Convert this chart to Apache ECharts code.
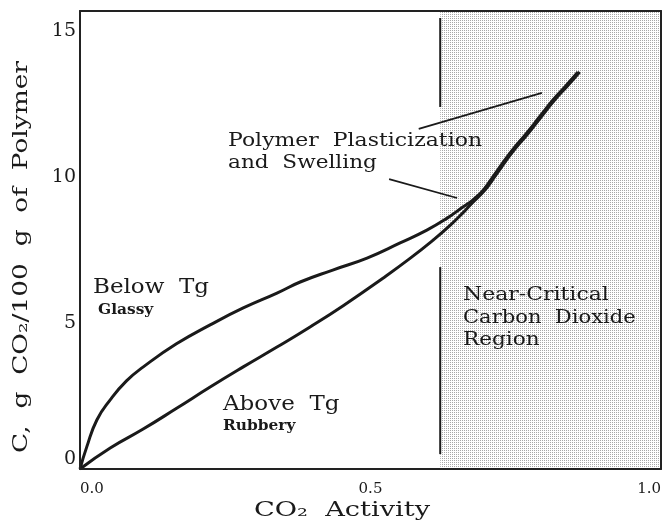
<!DOCTYPE html>
<html>
<head>
<meta charset="utf-8">
<script src="https://cdn.jsdelivr.net/npm/echarts@6/dist/echarts.min.js"></script>
<style>
html,body{margin:0;padding:0;background:#fff;}
#main{width:671px;height:521px;}
</style>
</head>
<body>
<div id="main"></div>
<script>
// data (x = CO2 activity, y = g CO2 / 100 g polymer)
var xTicks = [0, 0.5, 1.0]
var yTicks = [0, 5, 10, 15]

var glassyCurve = [
	[0, 0], [0.0115, 0.75], [0.029, 1.68], [0.052, 2.37], [0.080, 3.02], [0.109, 3.50],
	[0.166, 4.29], [0.224, 4.94], [0.281, 5.52], [0.339, 6.03], [0.379, 6.41], [0.435, 6.82],
	[0.494, 7.23], [0.551, 7.75], [0.597, 8.19], [0.632, 8.60], [0.659, 8.98], [0.676, 9.22],
	[0.694, 9.56], [0.713, 10.08], [0.740, 10.83], [0.769, 11.52], [0.792, 12.10],
	[0.814, 12.65], [0.836, 13.13], [0.857, 13.61]
]
var rubberyCurve = [
	[0, 0], [0.052, 0.72], [0.108, 1.36], [0.167, 2.09], [0.224, 2.81], [0.281, 3.50],
	[0.339, 4.18], [0.396, 4.87], [0.453, 5.60], [0.522, 6.55], [0.568, 7.22], [0.608, 7.85],
	[0.637, 8.35], [0.659, 8.78], [0.673, 9.08],
	[0.697, 9.56], [0.716, 10.08], [0.743, 10.83], [0.772, 11.52], [0.795, 12.10],
	[0.817, 12.65], [0.839, 13.13], [0.860, 13.61]
]

// near-critical region boundary and the two pointer lines
var regionStart = 0.62
var regionLineTop = [[0.62, 15.46], [0.62, 12.41]]
var regionLineBottom = [[0.62, 6.92], [0.62, 0.51]]
var pointerUpper = [[0.583, 11.66], [0.795, 12.89]]
var pointerLower = [[0.532, 9.94], [0.649, 9.29]]

var serif = '"DejaVu Serif", "Liberation Serif", serif'
var ink = '#1a1a1a'

// stipple for the shaded region
var pat = document.createElement('canvas')
pat.width = 2
pat.height = 2
var pctx = pat.getContext('2d')
pctx.fillStyle = '#ffffff'
pctx.fillRect(0, 0, 2, 2)
pctx.fillStyle = '#a8a8a8'
pctx.fillRect(0, 0, 1, 1)

function txt(s, x, y, size, weight, sx, align){
	return {
		type: 'text', x: x, y: y, scaleX: sx, z: 50,
		style: {
			text: s, fontFamily: serif, fontSize: size, fontWeight: weight,
			fill: ink, align: align || 'left', verticalAlign: 'middle'
		}
	}
}

function plainLine(data, width, z){
	return {
		type: 'line', data: data, symbol: 'none', z: z, silent: true,
		lineStyle: {color: ink, width: width}
	}
}

var vmain = document.getElementById('main')
var chart = echarts.init(vmain)

var frameLine = {show: true, onZero: false, lineStyle: {color: '#222', width: 2}}

var option = {
	animation: false,
	backgroundColor: '#fff',
	grid: {left: 80, right: 10, top: 11, bottom: 52},
	xAxis: [{
		type: 'value', min: xTicks[0], max: xTicks[xTicks.length - 1], interval: 0.5, z: 10,
		axisLine: frameLine, axisTick: {show: false}, splitLine: {show: false},
		axisLabel: {
			margin: 13, fontFamily: serif, fontSize: 15, color: ink,
			alignMinLabel: 'left', alignMaxLabel: 'right',
			formatter: function(v){ return v.toFixed(1) }
		}
	}, {
		type: 'value', position: 'top', min: 0, max: 1, z: 10,
		axisLine: frameLine, axisTick: {show: false}, splitLine: {show: false}, axisLabel: {show: false}
	}],
	yAxis: [{
		type: 'value', min: yTicks[0], max: 15.7, interval: 5, z: 10,
		axisLine: frameLine, axisTick: {show: false}, splitLine: {show: false},
		axisLabel: {
			margin: 4, fontFamily: serif, fontSize: 19, color: ink,
			showMaxLabel: false, verticalAlignMinLabel: 'bottom'
		}
	}, {
		type: 'value', position: 'right', min: 0, max: 15.7, z: 10,
		axisLine: frameLine, axisTick: {show: false}, splitLine: {show: false}, axisLabel: {show: false}
	}],
	series: [
		Object.assign(plainLine(regionLineTop, 2, 4), {
			markArea: {
				silent: true,
				itemStyle: {color: {image: pat, repeat: 'repeat'}},
				data: [[{xAxis: regionStart, yAxis: 0}, {xAxis: 1, yAxis: 15.7}]]
			}
		}),
		plainLine(regionLineBottom, 2, 4),
		{
			name: 'Below Tg', type: 'line', data: glassyCurve, symbol: 'none', z: 5,
			smooth: 0.5, lineStyle: {color: ink, width: 3}
		},
		{
			name: 'Above Tg', type: 'line', data: rubberyCurve, symbol: 'none', z: 5,
			smooth: 0.5, lineStyle: {color: ink, width: 3}
		},
		plainLine(pointerUpper, 1.8, 5),
		plainLine(pointerLower, 1.8, 5)
	],
	graphic: [
		txt('Polymer  Plasticization', 228, 141, 18, 'normal', 1.22),
		txt('and  Swelling', 228, 163, 18, 'normal', 1.2),
		txt('Below  Tg', 93, 288, 20, 'normal', 1.15),
		txt('Glassy', 98, 310, 14, 'bold', 1.1),
		txt('Above  Tg', 223, 405, 20, 'normal', 1.15),
		txt('Rubbery', 223, 426, 14, 'bold', 1.1),
		txt('Near-Critical', 463, 295, 18, 'normal', 1.22),
		txt('Carbon  Dioxide', 463, 318, 18, 'normal', 1.17),
		txt('Region', 463, 340, 18, 'normal', 1.2),
		txt('CO\u2082  Activity', 342, 511, 20, 'normal', 1.36, 'center'),
		Object.assign(txt('C,  g  CO\u2082/100  g  of  Polymer', 22, 257, 20, 'normal', 1.32, 'center'), {rotation: Math.PI / 2})
	]
}
chart.setOption(option)
</script>
</body>
</html>
